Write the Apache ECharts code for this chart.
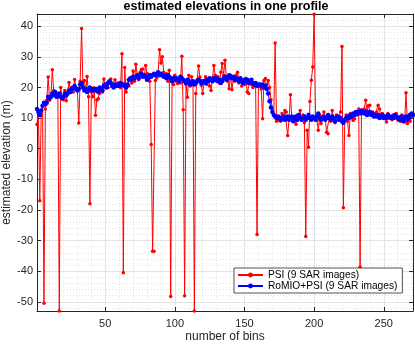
<!DOCTYPE html>
<html>
<head>
<meta charset="utf-8">
<script src="https://cdn.jsdelivr.net/npm/echarts@6/dist/echarts.min.js"></script>
<style>
  html, body { margin: 0; padding: 0; background: #fff; }
  #main { width: 415px; height: 345px; }
</style>
</head>
<body>
<div id="main"></div>
<script>
// values, one per bin (1..271)
const psiValues = [
  7.9, 12.5, -17, 11, 14, -50.5, 13, 15.8, 23.4, 15.8,
  17, 25.8, 19, 17.5, 18, 16.9, -53, 20, 17, 16,
  19, 15.7, 18, 21.6, 19, 20, 18.5, 22.6, 20, 19,
  8.4, 22, 39.3, 20.5, 22.3, 19, 23.6, 17, -18, 18.5,
  17, 19.9, 10.9, 15.9, 16.3, 18, 19, 18.5, 22.8, 20,
  21, 20, 21.5, 22.8, 21, 20.5, 22.5, 20.5, 21.5, 21,
  20, 31, -40.5, 26.5, 18.5, 21, 20.5, 22.9, 21.5, 25.4,
  22, 27.6, 24, 22.5, 25, 25.9, 26, 23.5, 27.2, 24.5,
  24.3, 22, 1.4, -33.5, -33.5, 22.3, 23.1, 25, 32.3, 28,
  30, 25, 23.4, 24.5, 22, 25.6, -48.3, 22, 21, 24,
  22, 21.3, 23, 21.5, 30.2, 12.7, -48, 21, 16.8, 24,
  20.5, 23.5, 21, -53, 18, 22.5, 27, 23.4, 20.7, 18,
  22, 23.5, 21, 22.5, 20.5, 19, 23, 27.2, 24, 22,
  23.5, 21.5, 25, 27.8, 24, 28.9, 23, 22, 19.6, 24,
  19.3, 23, 22, 24, 25, 21.5, 23, 20.5, 22, 21,
  23, 18.5, 18, 22, 21, 20, 21.2, 20.5, -28, 21,
  20.5, 19.5, 9.8, 22.3, 22.9, 21, 22.3, 20, 16, 13,
  11, 34.5, 9, 9.3, 10.5, 9, 11.5, 10, 12.5, 12,
  4.3, 9.5, 17.6, 10, 9, 10.5, 8, 11, 10, 12.5,
  9.5, 11, 8.5, -28.7, 6, 0.5, 15.4, 22.4, 26.7, 43.9,
  10, 9.3, 6, 11, 8.2, 10.5, 12, 9.5, 5.4, 4.9,
  10.5, 9, 12.5, 10, 8.5, 11, 9.5, 10.5, 12, 33.4,
  -19.3, 9, 11, 9, 4.3, 11.5, 10, 9.2, 9.8, 12,
  11, 13, -38.7, 11.5, 12, 13, 15.8, 12.5, 14, 14.2,
  11, 12, 10.5, 11.5, 12, 14.2, 13, 10, 11.5, 10.5,
  10.4, 8.7, 11.5, 10, 10.5, 9.5, 11, 10, 11.5, 9.5,
  10.5, 9, 11, 10, 8.7, 18.3, 8.2, 11, 9, 10.5,
  11.4
];

const romioValues = [
  13, 12, 11, 12.5, 14, 15, 14.5, 15, 17, 16.5,
  17, 18, 17.5, 18.5, 17, 17.5, 18, 17, 16.5, 17,
  18, 17.5, 18, 19, 18.5, 19.5, 20, 20.5, 19.5, 19,
  19.5, 21, 21.5, 20, 19, 19.5, 18.5, 19, 20, 19.5,
  19, 19.5, 19, 19.5, 18.5, 20, 19.5, 19, 20.5, 21,
  20, 21.5, 22, 21.5, 20.5, 20, 21, 20.5, 21, 20.5,
  21.5, 21, 21, 20.5, 20, 21, 22.5, 23, 22.5, 23.5,
  23, 23.5, 24, 23, 24, 24.5, 23.5, 24, 23.5, 22.5,
  23, 24, 23.5, 24, 24.5, 24, 24.5, 25, 24, 24.5,
  24, 23.5, 24, 23, 24, 23.5, 23, 22, 23, 22.5,
  23, 22.5, 22, 23.5, 23, 22.5, 22, 21.5, 22.5, 22,
  21, 21.5, 22, 21, 21.5, 22, 22.5, 22, 21.5, 22,
  22, 21.5, 22.5, 22, 23, 22.5, 22, 23, 22.5, 23,
  22, 22.5, 21.5, 22, 23, 23.5, 22.5, 23, 24, 23.5,
  23, 23.5, 22.5, 23, 22.5, 22, 23, 22, 21.5, 22.5,
  22, 22.5, 21.5, 22, 22.5, 21.5, 21, 21.5, 20.5, 21,
  21, 20.5, 21, 20, 20.5, 19.5, 18, 15.5, 13.5, 12,
  11, 10.5, 10, 10.5, 10, 9.5, 10, 10.5, 9.5, 10,
  10.5, 9.5, 10, 10.5, 9, 10, 10.5, 9.5, 11, 10,
  9.5, 10, 10.5, 9.5, 10, 11, 10, 9.5, 10.5, 10,
  9.5, 10.5, 11.5, 10, 9.5, 10, 10.5, 9.5, 10, 11,
  10, 9.5, 10.5, 10, 9, 10, 10.5, 9.5, 10, 9,
  8.5, 9.5, 10, 10.5, 10, 11, 10.5, 11.5, 11, 12,
  11.5, 12, 11.5, 12.5, 12, 11.5, 12, 11, 11.5, 12,
  11, 11.5, 10.5, 11, 10.5, 11, 10, 10.5, 11, 10,
  10.5, 10, 11, 10.5, 10, 10.5, 10, 11, 10.5, 10,
  9.5, 10, 10.5, 9, 10, 10.5, 9.5, 10, 11, 11.5,
  11
];

const seriesNames = ['PSI (9 SAR images)', 'RoMIO+PSI (9 SAR images)'];
const xMin = 1, xMax = 271;
const yMin = -53, yMax = 44;

const font = 'Liberation Sans, Arial, Helvetica, sans-serif';
const axisColor = '#262626';

function withBins(values) {
  return values.map((v, i) => [i + 1, v]);
}

const chart = echarts.init(document.getElementById('main'), null, { renderer: 'canvas' });

const gridLine = { show: true, lineStyle: { color: '#e3e3e3', width: 1 } };
const minorLine = { show: true, lineStyle: { color: '#e3e3e3', width: 1, type: [1, 2] } };

const option = {
  animation: false,
  backgroundColor: '#fff',
  title: {
    text: 'estimated elevations in one profile',
    left: 226,
    textAlign: 'center',
    top: 0,
    padding: 0,
    textStyle: { fontFamily: font, fontSize: 12.5, fontWeight: 'bold', color: '#000' }
  },
  grid: { left: 37, right: 2, top: 14, bottom: 34, containLabel: false, outerBoundsMode: 'none' },
  legend: {
    orient: 'vertical',
    left: 234,
    top: 268,
    padding: [2, 5, 2, 3],
    itemGap: 1,
    itemWidth: 25,
    itemHeight: 6,
    backgroundColor: '#fff',
    borderColor: axisColor,
    borderWidth: 0.8,
    textStyle: { fontFamily: font, fontSize: 10.2, color: '#000' },
    data: seriesNames
  },
  xAxis: [
    {
      type: 'value',
      min: xMin,
      max: xMax,
      splitNumber: 5,
      name: 'number of bins',
      nameLocation: 'middle',
      nameGap: 20,
      nameMoveOverlap: false,
      nameTextStyle: { fontFamily: font, fontSize: 12, color: axisColor },
      axisLine: { show: true, onZero: false, lineStyle: { color: axisColor, width: 1 } },
      axisTick: { show: true, inside: true, length: 4, lineStyle: { color: axisColor } },
      axisLabel: { fontFamily: font, fontSize: 11, color: axisColor, margin: 7, showMinLabel: false, showMaxLabel: false },
      splitLine: gridLine,
      minorTick: { show: false, splitNumber: 5 },
      minorSplitLine: minorLine
    },
    {
      type: 'value',
      position: 'top',
      min: xMin,
      max: xMax,
      splitNumber: 5,
      axisLine: { show: true, onZero: false, lineStyle: { color: axisColor, width: 1 } },
      axisTick: { show: true, inside: true, length: 4, lineStyle: { color: axisColor } },
      axisLabel: { show: false },
      splitLine: { show: false }
    }
  ],
  yAxis: [
    {
      type: 'value',
      min: yMin,
      max: yMax,
      splitNumber: 10,
      name: 'estimated elevation (m)',
      nameLocation: 'middle',
      nameGap: 24,
      nameMoveOverlap: false,
      nameTextStyle: { fontFamily: font, fontSize: 12, color: axisColor },
      axisLine: { show: true, onZero: false, lineStyle: { color: axisColor, width: 1 } },
      axisTick: { show: true, inside: true, length: 4, lineStyle: { color: axisColor } },
      axisLabel: { fontFamily: font, fontSize: 11, color: axisColor, margin: 4, showMinLabel: false, showMaxLabel: false },
      splitLine: gridLine,
      minorTick: { show: false, splitNumber: 5 },
      minorSplitLine: minorLine
    },
    {
      type: 'value',
      position: 'right',
      min: yMin,
      max: yMax,
      splitNumber: 10,
      axisLine: { show: true, onZero: false, lineStyle: { color: axisColor, width: 1 } },
      axisTick: { show: true, inside: true, length: 4, lineStyle: { color: axisColor } },
      axisLabel: { show: false },
      splitLine: { show: false }
    }
  ],
  series: [
    {
      name: seriesNames[0],
      type: 'line',
      data: withBins(psiValues),
      symbol: 'circle',
      symbolSize: 3.5,
      showSymbol: true,
      lineStyle: { color: '#ff0000', width: 1 },
      itemStyle: { color: '#ff0000' },
      z: 2
    },
    {
      name: seriesNames[1],
      type: 'line',
      data: withBins(romioValues),
      symbol: 'circle',
      symbolSize: 4.5,
      showSymbol: true,
      lineStyle: { color: '#0000ff', width: 1 },
      itemStyle: { color: '#0000ff' },
      z: 3
    }
  ]
};

chart.setOption(option);
</script>
</body>
</html>
